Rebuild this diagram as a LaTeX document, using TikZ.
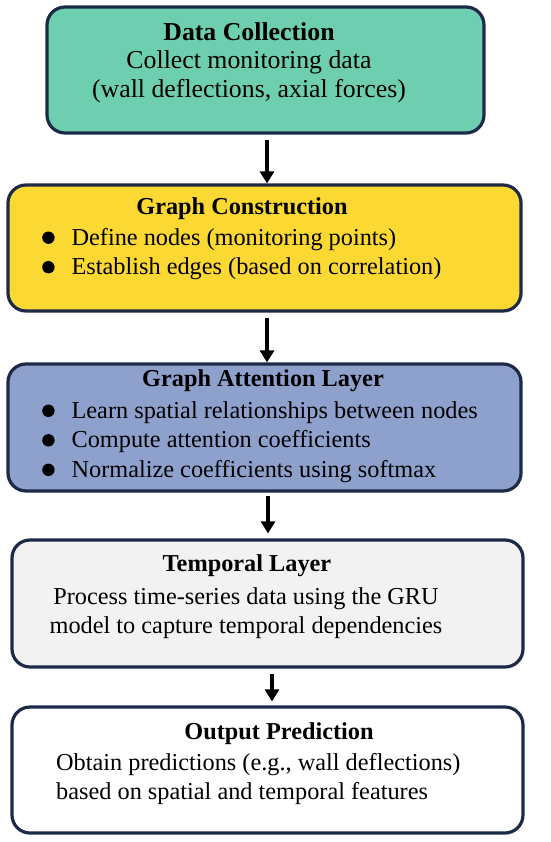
\documentclass[tikz,border=0pt]{standalone}
\usepackage{fontspec}
\setmainfont{Liberation Serif}
\usetikzlibrary{arrows.meta}

\definecolor{stepteal}{HTML}{6ECEB0}
\definecolor{stepyellow}{HTML}{FCD832}
\definecolor{stepblue}{HTML}{8EA0CC}
\definecolor{stepgrey}{HTML}{F2F2F2}
\definecolor{edgenavy}{HTML}{1C2A48}

\newcommand{\bdot}{\tikz[x=1pt,y=1pt,baseline=0pt]\fill (6,7.5) circle (6.2);}

\tikzset{
  stagebox/.style={draw=edgenavy,line width=3.2pt,rounded corners=18pt,inner sep=0pt},
  headtxt/.style={font=\fontsize{24.3}{29.5}\selectfont\bfseries,inner sep=0pt},
  bodytxt/.style={font=\fontsize{24.3}{29.5}\selectfont,inner sep=0pt},
  flow/.style={-{Triangle[width=14pt,length=12pt]},line width=3.3pt,black}
}

\begin{document}
\begin{tikzpicture}[x=1pt,y=-1pt]
    \useasboundingbox (0,0) rectangle (550,842);

    % Boxes
    \node[stagebox,fill=stepteal,minimum width=437pt,minimum height=126pt] (b1) at (265.5,70) {};
    \node[stagebox,fill=stepyellow,minimum width=513pt,minimum height=126pt] (b2) at (264.5,248) {};
    \node[stagebox,fill=stepblue,minimum width=513pt,minimum height=127pt] (b3) at (264.5,427.5) {};
    \node[stagebox,fill=stepgrey,minimum width=511pt,minimum height=127pt] (b4) at (267.5,603.5) {};
    \node[stagebox,fill=white,minimum width=511pt,minimum height=126pt] (b5) at (267.5,770) {};

    % Data Collection
    \node[headtxt,font=\fontsize{25.8}{30}\selectfont\bfseries] (h1) at (249,32) {Data Collection};
    \node[bodytxt,font=\fontsize{25.8}{29}\selectfont,align=center] (x1) at (249,76.5) {Collect monitoring data\\(wall deflections, axial forces)};

    % Graph Construction
    \node[headtxt] (h2) at (242,209) {Graph Construction};
    \node[bodytxt,align=left,anchor=west] (x2) at (42,254) {\bdot\hspace{17pt}Define nodes (monitoring points)\\
      \bdot\hspace{17pt}Establish edges (based on correlation)};

    % Graph Attention Layer
    \node[headtxt] (h3) at (263,381) {Graph Attention Layer};
    \node[bodytxt,align=left,anchor=west] (x3) at (42,442) {\bdot\hspace{17pt}Learn spatial relationships between nodes\\
      \bdot\hspace{17pt}Compute attention coefficients\\
      \bdot\hspace{17pt}Normalize coefficients using softmax};

    % Temporal Layer
    \node[headtxt] (h4) at (247,566) {Temporal Layer};
    \node[bodytxt,align=center] (x4) at (246,613) {Process time-series data using the GRU\\model to capture temporal dependencies};

    % Output Prediction
    \node[headtxt] (h5) at (279,734) {Output Prediction};
    \node[bodytxt,align=left,anchor=west] (x5) at (56,779) {Obtain predictions (e.g., wall deflections)\\based on spatial and temporal features};

    % Arrows
    \draw[flow,shorten <=5pt] ([xshift=1.5pt]b1.south) -- ([xshift=1.5pt]b1.south |- b2.north);
    \draw[flow,shorten <=5pt] ([xshift=2.5pt]b2.south) -- ([xshift=2.5pt]b2.south |- b3.north);
    \draw[flow,shorten <=3pt,shorten >=5pt] ([xshift=3.5pt]b3.south) -- ([xshift=3.5pt]b3.south |- b4.north);
    \draw[flow,shorten <=5pt,shorten >=4pt] ([xshift=4.5pt]b4.south) -- ([xshift=4.5pt]b4.south |- b5.north);
\end{tikzpicture}
\end{document}
